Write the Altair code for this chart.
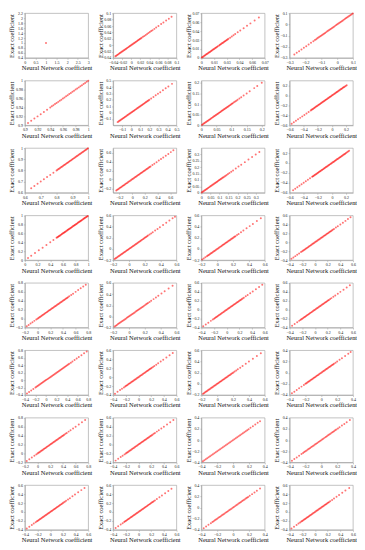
import altair as alt
import pandas as pd

# ---- values (Neural Network coefficient; Exact coefficient lies on the same line) ----
p01 = [1.0]
p02 = [-0.035, -0.033, -0.031, -0.029, -0.027, -0.025, -0.023, -0.021, -0.019, -0.017, -0.015, -0.013, -0.011,
       -0.009, -0.007, -0.005, -0.003, -0.001, 0.001, 0.003, 0.005, 0.007, 0.009, 0.011, 0.013, 0.015, 0.017,
       0.019, 0.021, 0.023, 0.026, 0.029, 0.032, 0.035, 0.038, 0.041, 0.044, 0.047, 0.051, 0.055, 0.06, 0.066,
       0.071, 0.077, 0.083, 0.089]
p03 = [0.0005, 0.0015, 0.0025, 0.0035, 0.0045, 0.0055, 0.0065, 0.0075, 0.0085, 0.0095, 0.0105, 0.0115, 0.0125,
       0.0135, 0.0145, 0.0155, 0.0165, 0.0175, 0.0185, 0.0195, 0.021, 0.022, 0.023, 0.024, 0.025, 0.026, 0.027,
       0.028, 0.029, 0.03, 0.031, 0.032, 0.034, 0.036, 0.038, 0.04, 0.043, 0.046, 0.05, 0.054, 0.058, 0.063, 0.068]
p04 = [-0.27, -0.255, -0.24, -0.225, -0.21, -0.195, -0.18, -0.165, -0.15, -0.14, -0.132, -0.125, -0.118, -0.111,
       -0.104, -0.097, -0.09, -0.083, -0.076, -0.069, -0.062, -0.055, -0.048, -0.041, -0.034, -0.027, -0.02,
       -0.013, -0.006, 0.001, 0.008, 0.015, 0.022, 0.029, 0.036, 0.043, 0.05, 0.057, 0.064, 0.071, 0.078, 0.085,
       0.092, 0.099]
p05 = [0.905, 0.91, 0.915, 0.92, 0.925, 0.93, 0.935, 0.94, 0.9425, 0.945, 0.9475, 0.95, 0.9525, 0.955, 0.9575,
       0.96, 0.9625, 0.965, 0.9675, 0.97, 0.9725, 0.975, 0.9775, 0.98, 0.9825, 0.985, 0.9875, 0.99, 0.9925, 0.995,
       0.9975, 1.0]
p06 = [-0.15, -0.14, -0.13, -0.12, -0.11, -0.1, -0.09, -0.08, -0.07, -0.06, -0.05, -0.04, -0.03, -0.02, -0.01, 0,
       0.01, 0.02, 0.03, 0.04, 0.05, 0.06, 0.07, 0.08, 0.09, 0.1, 0.11, 0.12, 0.13, 0.14, 0.15, 0.16, 0.17, 0.18,
       0.19, 0.2, 0.22, 0.245, 0.27, 0.295, 0.32, 0.35, 0.38, 0.41, 0.45]
p07 = [0.002, 0.005, 0.008, 0.011, 0.014, 0.017, 0.02, 0.023, 0.026, 0.029, 0.032, 0.035, 0.038, 0.041, 0.044,
       0.047, 0.05, 0.053, 0.056, 0.059, 0.062, 0.065, 0.068, 0.071, 0.074, 0.077, 0.08, 0.083, 0.086, 0.089,
       0.092, 0.095, 0.098, 0.101, 0.104, 0.108, 0.112, 0.116, 0.12, 0.126, 0.132, 0.14, 0.15, 0.16, 0.175,
       0.185, 0.2]
p08 = [-0.57, -0.54, -0.51, -0.48, -0.45, -0.42, -0.39, -0.36, -0.33, -0.3, -0.288, -0.276, -0.264, -0.252,
       -0.24, -0.228, -0.216, -0.204, -0.192, -0.18, -0.168, -0.156, -0.144, -0.132, -0.12, -0.108, -0.096,
       -0.084, -0.072, -0.06, -0.048, -0.036, -0.024, -0.012, 0, 0.012, 0.024, 0.036, 0.048, 0.06, 0.072, 0.084,
       0.096, 0.108, 0.12, 0.132, 0.144, 0.156, 0.168, 0.18, 0.195, 0.21]
p09 = [0.64, 0.66, 0.68, 0.7, 0.72, 0.74, 0.76, 0.78, 0.8, 0.806, 0.812, 0.818, 0.824, 0.83, 0.836, 0.842, 0.848,
       0.854, 0.86, 0.866, 0.872, 0.878, 0.884, 0.89, 0.896, 0.902, 0.908, 0.914, 0.92, 0.926, 0.932, 0.938,
       0.944, 0.95, 0.956, 0.962, 0.968, 0.974, 0.98, 0.986, 0.992, 0.998]
p10 = [-0.25, -0.235, -0.22, -0.205, -0.19, -0.175, -0.16, -0.145, -0.13, -0.115, -0.1, -0.085, -0.07, -0.055,
       -0.04, -0.025, -0.01, 0.005, 0.02, 0.035, 0.05, 0.065, 0.08, 0.095, 0.11, 0.125, 0.14, 0.155, 0.17, 0.185,
       0.2, 0.215, 0.23, 0.245, 0.26, 0.275, 0.29, 0.32, 0.35, 0.385, 0.42, 0.455, 0.49, 0.53, 0.57, 0.61, 0.65]
p11 = [0.002, 0.007, 0.012, 0.017, 0.022, 0.027, 0.032, 0.037, 0.042, 0.047, 0.052, 0.057, 0.062, 0.067, 0.072,
       0.077, 0.082, 0.087, 0.092, 0.097, 0.102, 0.107, 0.112, 0.117, 0.122, 0.128, 0.134, 0.14, 0.147, 0.155,
       0.165, 0.175, 0.19, 0.205, 0.22, 0.24, 0.26, 0.28, 0.3, 0.32]
p12 = [-0.55, -0.52, -0.49, -0.46, -0.43, -0.4, -0.37, -0.34, -0.31, -0.28, -0.268, -0.256, -0.244, -0.232,
       -0.22, -0.208, -0.196, -0.184, -0.172, -0.16, -0.148, -0.136, -0.124, -0.112, -0.1, -0.088, -0.076,
       -0.064, -0.052, -0.04, -0.028, -0.016, -0.004, 0.008, 0.02, 0.032, 0.044, 0.056, 0.068, 0.08, 0.092,
       0.104, 0.116, 0.128, 0.14, 0.152, 0.164, 0.176, 0.188, 0.2, 0.215, 0.23, 0.245]
p13 = [0.05, 0.1, 0.16, 0.22, 0.28, 0.34, 0.4, 0.45, 0.5, 0.512, 0.524, 0.536, 0.548, 0.56, 0.572, 0.584, 0.596,
       0.608, 0.62, 0.632, 0.644, 0.656, 0.668, 0.68, 0.692, 0.704, 0.716, 0.728, 0.74, 0.752, 0.764, 0.776,
       0.788, 0.8, 0.812, 0.824, 0.836, 0.848, 0.86, 0.872, 0.884, 0.896, 0.908, 0.92, 0.932, 0.944, 0.956,
       0.968, 0.98, 0.992]
p14 = [-0.18, -0.168, -0.156, -0.144, -0.132, -0.12, -0.108, -0.096, -0.084, -0.072, -0.06, -0.048, -0.036,
       -0.024, -0.012, 0, 0.012, 0.024, 0.036, 0.048, 0.06, 0.072, 0.084, 0.096, 0.108, 0.12, 0.132, 0.144,
       0.156, 0.168, 0.18, 0.192, 0.204, 0.216, 0.228, 0.24, 0.26, 0.28, 0.3, 0.33, 0.36, 0.39, 0.43, 0.47, 0.51,
       0.55, 0.58]
p15 = [-0.19, -0.17, -0.15, -0.13, -0.118, -0.106, -0.094, -0.082, -0.07, -0.058, -0.046, -0.034, -0.022, -0.01,
       0.002, 0.014, 0.026, 0.038, 0.05, 0.062, 0.074, 0.086, 0.098, 0.11, 0.122, 0.134, 0.146, 0.158, 0.17,
       0.182, 0.194, 0.206, 0.218, 0.23, 0.25, 0.27, 0.3, 0.33, 0.37, 0.41, 0.45, 0.5, 0.55]
p16 = [-0.37, -0.34, -0.31, -0.28, -0.25, -0.22, -0.2, -0.185, -0.17, -0.155, -0.14, -0.125, -0.11, -0.095,
       -0.08, -0.065, -0.05, -0.035, -0.02, -0.005, 0.01, 0.025, 0.04, 0.055, 0.07, 0.085, 0.1, 0.115, 0.13,
       0.145, 0.16, 0.175, 0.19, 0.205, 0.22, 0.235, 0.25, 0.265, 0.28, 0.3, 0.33, 0.36, 0.4, 0.44, 0.48, 0.52,
       0.56]
p17 = [-0.17, -0.14, -0.11, -0.08, -0.05, -0.02, 0, 0.015, 0.03, 0.045, 0.06, 0.075, 0.09, 0.105, 0.12, 0.135,
       0.15, 0.165, 0.18, 0.195, 0.21, 0.225, 0.24, 0.255, 0.27, 0.285, 0.3, 0.315, 0.33, 0.345, 0.36, 0.375,
       0.39, 0.405, 0.42, 0.435, 0.45, 0.465, 0.48, 0.5, 0.53, 0.56, 0.6, 0.64, 0.68, 0.72, 0.76]
p18 = [-0.18, -0.166, -0.152, -0.138, -0.124, -0.11, -0.096, -0.082, -0.068, -0.054, -0.04, -0.026, -0.012,
       0.002, 0.016, 0.03, 0.044, 0.058, 0.072, 0.086, 0.1, 0.114, 0.128, 0.142, 0.156, 0.17, 0.184, 0.198,
       0.212, 0.226, 0.24, 0.26, 0.28, 0.31, 0.34, 0.37, 0.41, 0.45, 0.5, 0.55]
p19 = [-0.37, -0.33, -0.29, -0.25, -0.22, -0.2, -0.185, -0.17, -0.155, -0.14, -0.125, -0.11, -0.095, -0.08,
       -0.065, -0.05, -0.035, -0.02, -0.005, 0.01, 0.025, 0.04, 0.055, 0.07, 0.085, 0.1, 0.115, 0.13, 0.145,
       0.16, 0.175, 0.19, 0.205, 0.22, 0.235, 0.25, 0.27, 0.3, 0.33, 0.37, 0.41, 0.46, 0.51, 0.56]
p20 = [-0.36, -0.32, -0.28, -0.25, -0.23, -0.215, -0.2, -0.185, -0.17, -0.155, -0.14, -0.125, -0.11, -0.095,
       -0.08, -0.065, -0.05, -0.035, -0.02, -0.005, 0.01, 0.025, 0.04, 0.055, 0.07, 0.085, 0.1, 0.115, 0.13,
       0.145, 0.16, 0.175, 0.19, 0.205, 0.22, 0.24, 0.26, 0.29, 0.32, 0.36, 0.4, 0.45, 0.5, 0.55]
p21 = [-0.36, -0.32, -0.28, -0.24, -0.2, -0.18, -0.16, -0.14, -0.12, -0.1, -0.08, -0.06, -0.04, -0.02, 0, 0.02,
       0.04, 0.06, 0.08, 0.1, 0.12, 0.14, 0.16, 0.18, 0.2, 0.22, 0.24, 0.26, 0.28, 0.3, 0.32, 0.34, 0.36, 0.38,
       0.4, 0.42, 0.44, 0.47, 0.5, 0.54, 0.58, 0.62, 0.67, 0.72, 0.77]
p22 = [-0.37, -0.33, -0.29, -0.26, -0.23, -0.21, -0.195, -0.18, -0.165, -0.15, -0.135, -0.12, -0.105, -0.09,
       -0.075, -0.06, -0.045, -0.03, -0.015, 0, 0.015, 0.03, 0.045, 0.06, 0.075, 0.09, 0.105, 0.12, 0.135, 0.15,
       0.165, 0.18, 0.195, 0.21, 0.23, 0.25, 0.28, 0.31, 0.35, 0.39, 0.44, 0.49, 0.54]
p23 = [-0.18, -0.168, -0.156, -0.144, -0.132, -0.12, -0.108, -0.096, -0.084, -0.072, -0.06, -0.048, -0.036,
       -0.024, -0.012, 0, 0.012, 0.024, 0.036, 0.048, 0.06, 0.072, 0.084, 0.096, 0.108, 0.12, 0.132, 0.144,
       0.156, 0.168, 0.18, 0.192, 0.204, 0.22, 0.24, 0.26, 0.29, 0.32, 0.36, 0.4, 0.45, 0.5, 0.55]
p24 = [-0.37, -0.34, -0.31, -0.28, -0.25, -0.22, -0.2, -0.188, -0.176, -0.164, -0.152, -0.14, -0.128, -0.116,
       -0.104, -0.092, -0.08, -0.068, -0.056, -0.044, -0.032, -0.02, -0.008, 0.004, 0.016, 0.028, 0.04, 0.052,
       0.064, 0.076, 0.088, 0.1, 0.112, 0.124, 0.136, 0.148, 0.16, 0.18, 0.2, 0.23, 0.26, 0.3, 0.34, 0.37]
p25 = [-0.17, -0.13, -0.09, -0.05, -0.02, 0, 0.015, 0.03, 0.045, 0.06, 0.075, 0.09, 0.105, 0.12, 0.135, 0.15,
       0.165, 0.18, 0.195, 0.21, 0.225, 0.24, 0.255, 0.27, 0.285, 0.3, 0.315, 0.33, 0.345, 0.36, 0.375, 0.39,
       0.405, 0.42, 0.44, 0.46, 0.49, 0.52, 0.56, 0.6, 0.65, 0.7, 0.75]
p26 = [-0.36, -0.32, -0.28, -0.25, -0.22, -0.2, -0.185, -0.17, -0.155, -0.14, -0.125, -0.11, -0.095, -0.08,
       -0.065, -0.05, -0.035, -0.02, -0.005, 0.01, 0.025, 0.04, 0.055, 0.07, 0.085, 0.1, 0.115, 0.13, 0.145,
       0.16, 0.175, 0.19, 0.205, 0.22, 0.24, 0.26, 0.29, 0.32, 0.36, 0.4, 0.45, 0.5, 0.55]
p27 = [-0.38, -0.362, -0.344, -0.326, -0.308, -0.29, -0.272, -0.254, -0.236, -0.218, -0.2, -0.182, -0.164,
       -0.146, -0.128, -0.11, -0.092, -0.074, -0.056, -0.038, -0.02, -0.002, 0.016, 0.034, 0.052, 0.07, 0.088,
       0.106, 0.124, 0.142, 0.16, 0.178, 0.196, 0.22, 0.25, 0.28, 0.31, 0.34]
p28 = [-0.37, -0.34, -0.31, -0.28, -0.25, -0.23, -0.215, -0.2, -0.185, -0.17, -0.155, -0.14, -0.125, -0.11,
       -0.095, -0.08, -0.065, -0.05, -0.035, -0.02, -0.005, 0.01, 0.025, 0.04, 0.055, 0.07, 0.085, 0.1, 0.115,
       0.13, 0.145, 0.16, 0.175, 0.19, 0.21, 0.23, 0.26, 0.29, 0.32, 0.36]
p29 = [-0.37, -0.33, -0.29, -0.26, -0.23, -0.21, -0.195, -0.18, -0.165, -0.15, -0.135, -0.12, -0.105, -0.09,
       -0.075, -0.06, -0.045, -0.03, -0.015, 0, 0.015, 0.03, 0.045, 0.06, 0.075, 0.09, 0.105, 0.12, 0.135, 0.15,
       0.165, 0.18, 0.195, 0.21, 0.23, 0.25, 0.28, 0.31, 0.35, 0.39, 0.44, 0.49, 0.54]
p30 = [-0.36, -0.32, -0.28, -0.25, -0.225, -0.21, -0.195, -0.18, -0.165, -0.15, -0.135, -0.12, -0.105, -0.09,
       -0.075, -0.06, -0.045, -0.03, -0.015, 0, 0.015, 0.03, 0.045, 0.06, 0.075, 0.09, 0.105, 0.12, 0.135, 0.15,
       0.165, 0.18, 0.195, 0.21, 0.225, 0.24, 0.26, 0.29, 0.33, 0.37, 0.42, 0.47, 0.52]
p31 = [-0.37, -0.34, -0.31, -0.28, -0.26, -0.245, -0.23, -0.215, -0.2, -0.185, -0.17, -0.155, -0.14, -0.125,
       -0.11, -0.095, -0.08, -0.065, -0.05, -0.035, -0.02, -0.005, 0.01, 0.025, 0.04, 0.055, 0.07, 0.085, 0.1,
       0.115, 0.13, 0.145, 0.16, 0.175, 0.19, 0.21, 0.24, 0.27, 0.3, 0.34]
p32 = [-0.37, -0.33, -0.29, -0.26, -0.235, -0.215, -0.2, -0.185, -0.17, -0.155, -0.14, -0.125, -0.11, -0.095,
       -0.08, -0.065, -0.05, -0.035, -0.02, -0.005, 0.01, 0.025, 0.04, 0.055, 0.07, 0.085, 0.1, 0.115, 0.13,
       0.145, 0.16, 0.175, 0.19, 0.205, 0.22, 0.24, 0.27, 0.3, 0.34, 0.38, 0.43, 0.48, 0.54]

panel_values = [p01, p02, p03, p04, p05, p06, p07, p08, p09, p10, p11, p12, p13, p14, p15, p16,
                p17, p18, p19, p20, p21, p22, p23, p24, p25, p26, p27, p28, p29, p30, p31, p32]

# axis ranges (x and y share the same range, except the first panel)
x_domains = [[0, 3], [-0.04, 0.1], [0, 0.075], [-0.3, 0.1],
             [0.9, 1.0], [-0.2, 0.5], [0, 0.21], [-0.6, 0.3],
             [0.6, 1.0], [-0.3, 0.7], [0, 0.35], [-0.6, 0.3],
             [0, 1], [-0.2, 0.6], [-0.2, 0.6], [-0.4, 0.6],
             [-0.2, 0.8], [-0.2, 0.6], [-0.4, 0.6], [-0.4, 0.6],
             [-0.4, 0.8], [-0.4, 0.6], [-0.2, 0.6], [-0.4, 0.4],
             [-0.2, 0.8], [-0.4, 0.6], [-0.4, 0.4], [-0.4, 0.4],
             [-0.4, 0.6], [-0.4, 0.6], [-0.4, 0.4], [-0.4, 0.6]]
y_domains = [[0.4, 2.2]] + x_domains[1:]

x_ticks = [[0, 0.5, 1, 1.5, 2, 2.5, 3], [-0.04, -0.02, 0, 0.02, 0.04, 0.06, 0.08, 0.1],
           [0, 0.015, 0.03, 0.045, 0.06, 0.075], [-0.3, -0.2, -0.1, 0, 0.1],
           [0.9, 0.92, 0.94, 0.96, 0.98, 1], [-0.1, 0, 0.1, 0.2, 0.3, 0.4, 0.5],
           [0, 0.05, 0.1, 0.15, 0.2], [-0.6, -0.4, -0.2, 0, 0.2],
           [0.6, 0.7, 0.8, 0.9, 1], [-0.2, 0, 0.2, 0.4, 0.6],
           [0, 0.05, 0.1, 0.15, 0.2, 0.25, 0.3], [-0.6, -0.4, -0.2, 0, 0.2],
           [0, 0.2, 0.4, 0.6, 0.8, 1], [-0.2, 0, 0.2, 0.4, 0.6], [-0.2, 0, 0.2, 0.4, 0.6], [-0.4, -0.2, 0, 0.2, 0.4, 0.6],
           [-0.2, 0, 0.2, 0.4, 0.6, 0.8], [-0.2, 0, 0.2, 0.4, 0.6], [-0.4, -0.2, 0, 0.2, 0.4, 0.6], [-0.4, -0.2, 0, 0.2, 0.4, 0.6],
           [-0.4, -0.2, 0, 0.2, 0.4, 0.6, 0.8], [-0.4, -0.2, 0, 0.2, 0.4, 0.6], [-0.2, 0, 0.2, 0.4, 0.6], [-0.4, -0.2, 0, 0.2, 0.4],
           [-0.2, 0, 0.2, 0.4, 0.6, 0.8], [-0.4, -0.2, 0, 0.2, 0.4, 0.6], [-0.4, -0.2, 0, 0.2, 0.4], [-0.4, -0.2, 0, 0.2, 0.4],
           [-0.4, -0.2, 0, 0.2, 0.4, 0.6], [-0.4, -0.2, 0, 0.2, 0.4, 0.6], [-0.4, -0.2, 0, 0.2, 0.4], [-0.4, -0.2, 0, 0.2, 0.4, 0.6]]
y_ticks = [[0.4, 0.6, 0.8, 1, 1.2, 1.4, 1.6, 1.8, 2, 2.2]] + x_ticks[1:]

x_title = "Neural Network coefficient"
y_title = "Exact coefficient"

FONT = "Liberation Serif"


def panel(vals, xd, yd, xt, yt):
    df = pd.DataFrame({"nn": vals, "exact": vals})
    return alt.Chart(df).mark_circle(size=4, color="#ff0000", opacity=0.55).encode(
        x=alt.X("nn:Q", scale=alt.Scale(domain=xd, nice=False, zero=False),
                axis=alt.Axis(values=xt, title=x_title, format="~g", minExtent=6, maxExtent=6)),
        y=alt.Y("exact:Q", scale=alt.Scale(domain=yd, nice=False, zero=False),
                axis=alt.Axis(values=yt, title=y_title, format="~g", minExtent=9, maxExtent=9)),
    ).properties(width=64, height=45)


charts = [panel(panel_values[i], x_domains[i], y_domains[i], x_ticks[i], y_ticks[i]) for i in range(32)]

chart = alt.concat(*charts, columns=4, spacing={"row": 23, "column": 25}, bounds="flush").properties(
    padding=0
).configure_view(
    stroke="#9a9a9a", strokeWidth=0.6
).configure_axis(
    grid=False,
    labelFont=FONT, labelFontSize=4, labelColor="#222222", labelPadding=1,
    labelFlush=False, labelOverlap=False,
    titleFont=FONT, titleFontSize=6.5, titleFontWeight="normal", titleColor="#111111", titlePadding=1,
    domainColor="#9a9a9a", domainWidth=0.6, tickColor="#9a9a9a", tickSize=1.5, tickWidth=0.5,
)

chart.save("out.html", embed_options={"renderer": "svg", "actions": False})
